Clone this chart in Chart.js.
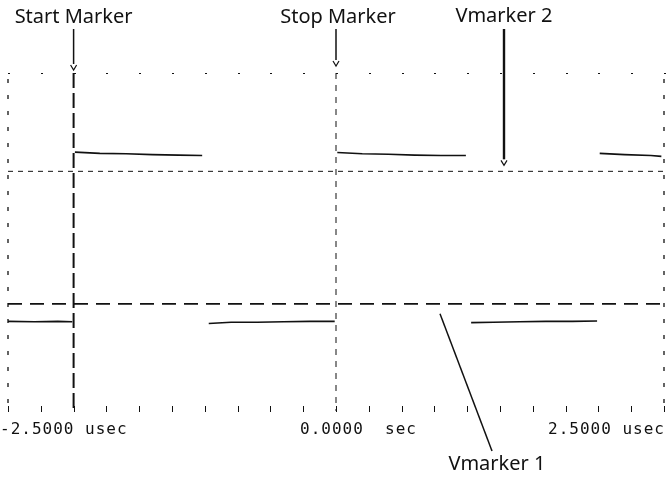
<!DOCTYPE html>
<html>
<head>
<meta charset="utf-8">
<script src="https://cdn.jsdelivr.net/npm/chart.js@4.4.1/dist/chart.umd.min.js"></script>
<style>
  html, body { margin: 0; padding: 0; background: #ffffff; }
  #wrap { width: 672px; height: 490px; position: relative; }
</style>
</head>
<body>
<div id="wrap"><canvas id="scope" width="672" height="490"></canvas></div>
<script>
// Time axis (microseconds) and captured signal level (volts); null breaks the trace at edges
const timeUs = [
  -2.50, -2.30, -2.12, -2.01, null,
  -1.99, -1.80, -1.60, -1.40, -1.20, -1.02, null,
  -0.97, -0.80, -0.60, -0.40, -0.20, -0.01, null,
   0.01,  0.20,  0.40,  0.60,  0.80,  0.99, null,
   1.03,  1.20,  1.40,  1.60,  1.80,  1.99, null,
   2.01,  2.20,  2.40,  2.48
];
const signalV = [
  0.19, 0.18, 0.19, 0.18, null,
  4.15, 4.12, 4.11, 4.09, 4.08, 4.07, null,
  0.14, 0.17, 0.17, 0.18, 0.19, 0.19, null,
  4.14, 4.11, 4.10, 4.08, 4.07, 4.07, null,
  0.16, 0.17, 0.18, 0.19, 0.19, 0.20, null,
  4.12, 4.09, 4.07, 4.05
];

// Time markers (usec) and voltage markers (V)
const startMarkerUs = -2.0;
const stopMarkerUs = 0.0;
const vmarker1V = 0.6;
const vmarker2V = 3.7;

// Axis settings and labels along the time axis
const timeRange = [-2.5, 2.5];
const voltRange = [-2, 6];
const tickValues = [-2.5, 0, 2.5];
const tickLabels = ['-2.5000 usec', '0.0000  sec', '2.5000 usec'];
const minorTickStep = 0.25;

const points = timeUs.map((t, i) => ({ x: t === null ? (timeUs[i - 1] + timeUs[i + 1]) / 2 : t, y: signalV[i] }));

const INK = '#111111';
const LABEL_FONT = '20px "Noto Sans", "DejaVu Sans", sans-serif';
const AXIS_FONT = '16px "DejaVu Sans Mono", monospace';

function line(ctx, x1, y1, x2, y2, w, dash) {
  ctx.save();
  ctx.strokeStyle = INK;
  ctx.lineWidth = w;
  ctx.setLineDash(dash || []);
  ctx.beginPath();
  ctx.moveTo(x1, y1);
  ctx.lineTo(x2, y2);
  ctx.stroke();
  ctx.restore();
}

function arrowHead(ctx, x, y, size) {
  ctx.save();
  ctx.strokeStyle = INK;
  ctx.lineWidth = 1.2;
  ctx.beginPath();
  ctx.moveTo(x - size * 0.6, y - size);
  ctx.lineTo(x, y);
  ctx.lineTo(x + size * 0.6, y - size);
  ctx.stroke();
  ctx.restore();
}

const scopeOverlay = {
  id: 'scopeOverlay',
  afterDatasetsDraw(chart) {
    const { ctx, chartArea: a, scales: { x, y } } = chart;

    // graticule outline: sparse dashed sides, dotted top, minor ticks at bottom
    line(ctx, a.left, a.top + 6, a.left, a.bottom, 1.3, [4, 12]);
    line(ctx, a.right, a.top + 6, a.right, a.bottom, 1.3, [4, 12]);
    ctx.save();
    ctx.fillStyle = INK;
    for (let t = timeRange[0]; t <= timeRange[1] + 1e-9; t += minorTickStep) {
      const px = Math.round(x.getPixelForValue(t));
      ctx.fillRect(px, a.top, 2, 1);
      ctx.fillRect(px, a.bottom - 9, 1, 6);
    }
    ctx.restore();

    // voltage markers
    const yV2 = y.getPixelForValue(vmarker2V);
    const yV1 = y.getPixelForValue(vmarker1V);
    line(ctx, a.left, yV2, a.right, yV2, 1, [5, 5]);
    line(ctx, a.left, yV1, a.right, yV1, 1.6, [14, 8]);

    // time markers
    const xStart = x.getPixelForValue(startMarkerUs);
    const xStop = x.getPixelForValue(stopMarkerUs);
    line(ctx, xStart, 29, xStart, 64, 1.5);
    arrowHead(ctx, xStart, 70, 5);
    line(ctx, xStart, a.top, xStart, a.bottom - 4, 2, [15, 5]);
    line(ctx, xStop, 29, xStop, 60, 1.5);
    arrowHead(ctx, xStop, 66, 5);
    line(ctx, xStop, a.top, xStop, a.bottom - 4, 1, [6, 6]);

    // pointer lines from the voltage marker labels
    const xV2 = 504;
    line(ctx, xV2, 29, xV2, yV2 - 12, 2.4);
    arrowHead(ctx, xV2, yV2 - 6, 5);
    line(ctx, 440, yV1 + 10, 492, 451, 1.5);

    // labels
    ctx.save();
    ctx.fillStyle = INK;
    ctx.font = LABEL_FONT;
    ctx.textBaseline = 'middle';
    ctx.textAlign = 'center';
    ctx.fillText('Start Marker', xStart, 17);
    ctx.fillText('Stop Marker', xStop + 2, 17);
    ctx.fillText('Vmarker 2', xV2, 16);
    ctx.fillText('Vmarker 1', 497, 464);

    // time axis labels
    ctx.font = AXIS_FONT;
    ctx.letterSpacing = '1px';
    tickValues.forEach((v, i) => {
      const px = x.getPixelForValue(v);
      if (i === 0) { ctx.textAlign = 'left'; ctx.fillText(tickLabels[i], px - 8, 430); }
      else if (i === tickValues.length - 1) { ctx.textAlign = 'right'; ctx.fillText(tickLabels[i], px + 1, 430); }
      else { ctx.textAlign = 'left'; ctx.fillText(tickLabels[i], px - 36, 430); }
    });
    ctx.restore();
  }
};

new Chart(document.getElementById('scope'), {
  type: 'line',
  data: {
    datasets: [{
      data: points,
      borderColor: INK,
      borderWidth: 1.6,
      pointRadius: 0,
      tension: 0,
      spanGaps: false,
      fill: false
    }]
  },
  options: {
    responsive: false,
    animation: false,
    devicePixelRatio: 1,
    layout: { padding: { left: 8, right: 8, top: 73, bottom: 75 } },
    plugins: { legend: { display: false }, tooltip: { enabled: false } },
    scales: {
      x: { type: 'linear', display: false, min: timeRange[0], max: timeRange[1] },
      y: { type: 'linear', display: false, min: voltRange[0], max: voltRange[1] }
    }
  },
  plugins: [scopeOverlay]
});
</script>
</body>
</html>
